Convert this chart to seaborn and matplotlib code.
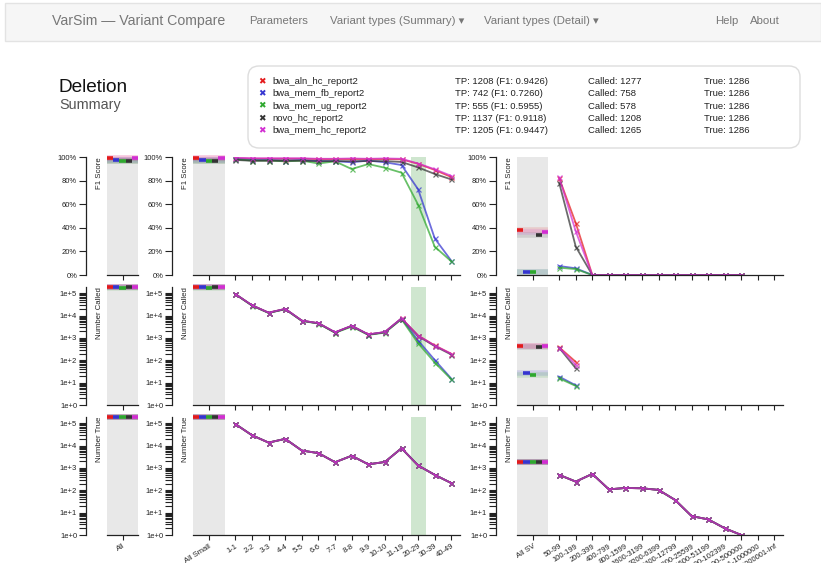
import numpy as np
import pandas as pd
import matplotlib
matplotlib.use("Agg")
import matplotlib.pyplot as plt
import seaborn as sns
from matplotlib.patches import FancyBboxPatch, Rectangle
from matplotlib.ticker import FixedLocator, NullFormatter

# ---------------------------------------------------------------- data
tools = ["bwa_aln_hc_report2", "bwa_mem_fb_report2", "bwa_mem_ug_report2",
         "novo_hc_report2", "bwa_mem_hc_report2"]
tool_colors = ["#e41a1c", "#3535d0", "#2ea82e", "#333333", "#d22ed2"]

small_bins = ["1-1", "2-2", "3-3", "4-4", "5-5", "6-6", "7-7", "8-8", "9-9",
              "10-10", "11-19", "20-29", "30-39", "40-49"]
sv_bins = ["50-99", "100-199", "200-399", "400-799", "800-1599", "1600-3199",
           "3200-6399", "6400-12799", "12800-25599", "25600-51199",
           "51200-102399", "102400-500000", "500001-1000000", "1000001-Inf"]
selected_bin = "20-29"

# legend summary for the selected bin
tp_counts = [1208, 742, 555, 1137, 1205]
f1_selected = [0.9426, 0.7260, 0.5955, 0.9118, 0.9447]
called_counts = [1277, 758, 578, 1208, 1265]
true_counts = [1286, 1286, 1286, 1286, 1286]

nan = np.nan

# F1 score per size bin
f1_small = {
    "bwa_aln_hc_report2": [0.990, 0.985, 0.985, 0.985, 0.985, 0.982, 0.982, 0.982, 0.982, 0.982, 0.980, 0.9426, 0.890, 0.830],
    "bwa_mem_fb_report2": [0.985, 0.975, 0.975, 0.970, 0.975, 0.965, 0.965, 0.955, 0.970, 0.955, 0.932, 0.7260, 0.310, 0.120],
    "bwa_mem_ug_report2": [0.980, 0.970, 0.970, 0.963, 0.969, 0.945, 0.963, 0.898, 0.940, 0.909, 0.867, 0.5955, 0.240, 0.115],
    "novo_hc_report2":    [0.975, 0.968, 0.968, 0.968, 0.968, 0.965, 0.965, 0.965, 0.965, 0.965, 0.958, 0.9118, 0.856, 0.810],
    "bwa_mem_hc_report2": [0.995, 0.990, 0.990, 0.990, 0.990, 0.985, 0.985, 0.988, 0.985, 0.988, 0.985, 0.9447, 0.896, 0.840],
}
f1_sv = {
    "bwa_aln_hc_report2": [0.820, 0.440, 0, 0, 0, 0, 0, 0, 0, 0, 0, 0, nan, nan],
    "bwa_mem_fb_report2": [0.076, 0.057, 0, 0, 0, 0, 0, 0, 0, 0, 0, 0, nan, nan],
    "bwa_mem_ug_report2": [0.062, 0.050, 0, 0, 0, 0, 0, 0, 0, 0, 0, 0, nan, nan],
    "novo_hc_report2":    [0.780, 0.240, 0, 0, 0, 0, 0, 0, 0, 0, 0, 0, nan, nan],
    "bwa_mem_hc_report2": [0.827, 0.370, 0, 0, 0, 0, 0, 0, 0, 0, 0, 0, nan, nan],
}
f1_all = [0.990, 0.977, 0.969, 0.966, 0.990]
f1_all_small = [0.990, 0.977, 0.968, 0.966, 0.990]
f1_all_sv = [0.380, 0.028, 0.023, 0.337, 0.368]

# number of called variants per size bin
called_small = {
    "bwa_aln_hc_report2": [91500, 28800, 13500, 19900, 5950, 4560, 1780, 3470, 1430, 1830, 7500, 1277, 460, 195],
    "bwa_mem_fb_report2": [91000, 28600, 13400, 19700, 5900, 4520, 1760, 3430, 1420, 1810, 7350, 758, 103, 15],
    "bwa_mem_ug_report2": [90000, 28000, 13100, 19200, 5750, 4380, 1700, 3200, 1370, 1720, 6900, 578, 79, 14],
    "novo_hc_report2":    [90800, 28500, 13300, 19600, 5900, 4500, 1750, 3450, 1410, 1800, 7300, 1208, 430, 180],
    "bwa_mem_hc_report2": [91600, 28900, 13500, 19900, 5960, 4570, 1790, 3480, 1440, 1840, 7520, 1265, 455, 192],
}
called_sv = {
    "bwa_aln_hc_report2": [380, 85, nan, nan, nan, nan, nan, nan, nan, nan, nan, nan, nan, nan],
    "bwa_mem_fb_report2": [18.5, 7.6, nan, nan, nan, nan, nan, nan, nan, nan, nan, nan, nan, nan],
    "bwa_mem_ug_report2": [15.6, 7.1, nan, nan, nan, nan, nan, nan, nan, nan, nan, nan, nan, nan],
    "novo_hc_report2":    [360, 44, nan, nan, nan, nan, nan, nan, nan, nan, nan, nan, nan, nan],
    "bwa_mem_hc_report2": [370, 62, nan, nan, nan, nan, nan, nan, nan, nan, nan, nan, nan, nan],
}
called_all = [183300, 181800, 176500, 181400, 183200]
called_all_small = [182900, 181700, 176400, 181000, 182800]
called_all_sv = [455, 28, 23, 395, 425]

# number of true variants per size bin (same truth set for every tool)
true_small = [92000, 29000, 13600, 20000, 6000, 4600, 1800, 3500, 1450, 1850, 7600, 1286, 490, 210]
true_sv = [488, 245, 540, 110, 127, 123, 104, 37, 7, 5, 2, 1, nan, nan]
true_all = 185175
true_all_small = 183386
true_all_sv = 1789

# ---------------------------------------------------------------- style
sns.set_theme(style="ticks")
plt.rcParams["font.family"] = ["Liberation Sans", "DejaVu Sans"]
plt.rcParams["axes.linewidth"] = 0.9
plt.rcParams["axes.edgecolor"] = "#222222"

W, H = 821, 563
fig = plt.figure(figsize=(W / 100, H / 100), dpi=100)
palette = dict(zip(tools, tool_colors))

# page furniture drawn in pixel coordinates
page = fig.add_axes([0, 0, 1, 1], zorder=-5)
page.set_xlim(0, W)
page.set_ylim(H, 0)
page.axis("off")

page.add_patch(Rectangle((5, 3), W - 5, 38, facecolor="#f6f6f6",
                         edgecolor="#e3e3e3", lw=1))
page.text(52, 21, "VarSim \u2014 Variant Compare", fontsize=10.2, color="#777777", va="center")
nav_items = [(249, "Parameters"), (330, "Variant types (Summary) \u25BE"),
             (484, "Variant types (Detail) \u25BE"), (715, "Help"), (750, "About")]
for nx, txt in nav_items:
    page.text(nx, 21, txt, fontsize=8.2, color="#777777", va="center")

page.text(59, 88, "Deletion", fontsize=13.7, color="#111111", va="center")
page.text(59, 105, "Summary", fontsize=10.4, color="#555555", va="center")

page.add_patch(FancyBboxPatch((248, 66), 552, 82,
                              boxstyle="round,pad=0,rounding_size=11",
                              facecolor="white", edgecolor="#dddddd", lw=1))
row_y = [81.5, 93.8, 106.1, 118.4, 130.7]
for i, tool in enumerate(tools):
    y = row_y[i]
    page.text(262, y, "\u2716", fontsize=6.5, color=tool_colors[i],
              ha="center", va="center", family="DejaVu Sans")
    page.text(272, y, tool, fontsize=6.8, color="#222222", va="center")
    page.text(455, y, f"TP: {tp_counts[i]} (F1: {f1_selected[i]:.4f})",
              fontsize=6.8, color="#222222", va="center")
    page.text(588, y, f"Called: {called_counts[i]}", fontsize=6.8,
              color="#222222", va="center")
    page.text(704, y, f"True: {true_counts[i]}", fontsize=6.8,
              color="#222222", va="center")

# ---------------------------------------------------------------- panels
rows = [(157, 275), (287, 405), (417, 535)]
cols = [(107, 138), (193, 460), (517, 783)]
band = (-2.55, -0.65)
summary_x = -1.6
row_labels = ["F1 Score", "Number Called", "Number True"]


def make_ax(col, row):
    x0, x1 = cols[col]
    y0, y1 = rows[row]
    ax = fig.add_axes([x0 / W, 1 - y1 / H, (x1 - x0) / W, (y1 - y0) / H])
    ax.set_facecolor("none")
    for s in ("top", "right"):
        ax.spines[s].set_visible(False)
    ax.spines["left"].set_position(("outward", 15))
    page.text(x0 - 11, y0, row_labels[row], rotation=90, ha="left", va="top",
              fontsize=5.6, color="#222222")
    return ax


def style_y(ax, row):
    if row == 0:
        ax.set_ylim(0, 1)
        ticks = [0, 0.2, 0.4, 0.6, 0.8, 1.0]
        ax.set_yticks(ticks)
        ax.set_yticklabels([f"{int(round(t * 100))}%" for t in ticks])
    else:
        ax.set_yscale("log")
        ax.set_ylim(1, 1.9e5)
        ax.yaxis.set_major_locator(FixedLocator([10.0 ** k for k in range(6)]))
        ax.set_yticklabels([f"1e+{k}" for k in range(6)])
        minor = [m * 10.0 ** k for k in range(6) for m in range(2, 10) if m * 10.0 ** k < 1.9e5]
        ax.yaxis.set_minor_locator(FixedLocator(minor))
        ax.yaxis.set_minor_formatter(NullFormatter())
    ax.tick_params(axis="y", which="both", length=5, width=0.8, pad=1.5,
                   labelsize=5.5, labelcolor="#222222", color="#222222")
    ax.set_ylabel("")


def summary_marks(ax, values, log=False):
    seg = (band[1] - band[0]) / len(values)
    for k, (v, c) in enumerate(zip(values, tool_colors)):
        ax.plot([band[0], band[1]], [v, v], color=c, lw=4, alpha=0.14,
                solid_capstyle="butt", clip_on=False, zorder=2)
        ax.plot([band[0] + k * seg, band[0] + (k + 1) * seg], [v, v], color=c,
                lw=2.6, solid_capstyle="butt", clip_on=False, zorder=3)


def draw_lines(ax, series, n):
    frames = []
    for tool in tools:
        vals = series[tool] if isinstance(series, dict) else series
        frames.append(pd.DataFrame({"pos": np.arange(n), "value": vals, "tool": tool}))
    df = pd.concat(frames, ignore_index=True)
    sns.lineplot(data=df, x="pos", y="value", hue="tool", hue_order=tools,
                 palette=palette, marker="x", markersize=3.6, linewidth=1.3,
                 alpha=0.72, estimator=None, sort=False, legend=False, ax=ax)
    for line in ax.lines:
        line.set_markeredgecolor(line.get_color())
        line.set_markeredgewidth(0.9)


metric_small = [f1_small, called_small, [true_small] * 1]
for row in range(3):
    # column 1: all variants
    ax = make_ax(0, row)
    ax.set_xlim(*band)
    ax.axvspan(*band, color="#e8e8e8", zorder=0, lw=0)
    style_y(ax, row)
    vals = [f1_all, called_all, [true_all] * 5][row]
    summary_marks(ax, vals)
    ax.set_xticks([summary_x])
    ax.set_xticklabels(["All"] if row == 2 else [""])

    # column 2: small variants
    ax = make_ax(1, row)
    ax.set_xlim(band[0], 13.52)
    ax.axvspan(*band, color="#e8e8e8", zorder=0, lw=0)
    sel = small_bins.index(selected_bin)
    ax.axvspan(sel - 0.45, sel + 0.45, color="#cfe6cf", zorder=0, lw=0)
    series = [f1_small, called_small, true_small][row]
    draw_lines(ax, series, len(small_bins))
    style_y(ax, row)
    vals = [f1_all_small, called_all_small, [true_all_small] * 5][row]
    summary_marks(ax, vals)
    ax.set_xticks([summary_x] + list(range(len(small_bins))))
    ax.set_xticklabels((["All Small"] + small_bins) if row == 2 else [""] * (len(small_bins) + 1))

    # column 3: structural variants
    ax = make_ax(2, row)
    ax.set_xlim(band[0], 13.52)
    ax.axvspan(*band, color="#e8e8e8", zorder=0, lw=0)
    series = [f1_sv, called_sv, true_sv][row]
    draw_lines(ax, series, len(sv_bins))
    style_y(ax, row)
    vals = [f1_all_sv, called_all_sv, [true_all_sv] * 5][row]
    summary_marks(ax, vals)
    ax.set_xticks([summary_x] + list(range(len(sv_bins))))
    ax.set_xticklabels((["All SV"] + sv_bins) if row == 2 else [""] * (len(sv_bins) + 1))

for ax in fig.axes[1:]:
    ax.set_xlabel("")
    ax.tick_params(axis="x", length=3.5, width=0.8, pad=2, labelsize=5.5,
                   labelcolor="#222222", color="#222222")
    for lab in ax.get_xticklabels():
        lab.set_rotation(32)
        lab.set_ha("right")
        lab.set_rotation_mode("anchor")

fig.savefig("out.png", dpi=100, facecolor="white")
